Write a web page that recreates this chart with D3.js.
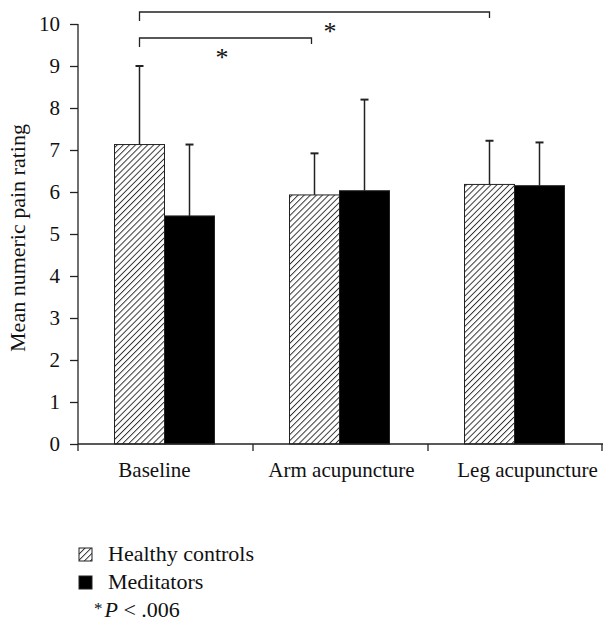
<!DOCTYPE html>
<html><head><meta charset="utf-8">
<script src="https://cdn.jsdelivr.net/npm/d3@7"></script>
<style>body{margin:0;background:#fff}svg{display:block}text{font-family:"Liberation Serif","DejaVu Serif",serif;fill:#111}</style>
</head><body><svg id="c" width="603" height="622"></svg>
<script>
const categories = ["Baseline", "Arm acupuncture", "Leg acupuncture"];
const seriesNames = ["Healthy controls", "Meditators"];
const healthyMeans = [7.13, 5.93, 6.18];
const healthyErrTop = [9.0, 6.92, 7.22];
const meditatorMeans = [5.43, 6.03, 6.15];
const meditatorErrTop = [7.13, 8.2, 7.18];
const yTicks = [0,1,2,3,4,5,6,7,8,9,10];
const sigPairs = [ {from:0, to:1, label:"*"}, {from:0, to:2, label:"*"} ];

const FS = 21;
const svg = d3.select("#c");
const M = {l:78, r:603, t:24, b:444};
const x = d3.scaleBand().domain(categories).range([M.l, M.r]);
const barW = 50;
const y = d3.scaleLinear().domain([0,10]).range([M.b, M.t]);
const labelShift = [-11, 1, 12];

const defs = svg.append("defs");
const pat = defs.append("pattern").attr("id","hatch").attr("patternUnits","userSpaceOnUse")
  .attr("width",4.3).attr("height",4.3).attr("patternTransform","rotate(45)");
pat.append("rect").attr("width",4.3).attr("height",4.3).attr("fill","#fff");
pat.append("line").attr("x1",0.5).attr("y1",0).attr("x2",0.5).attr("y2",4.3).attr("stroke","#222").attr("stroke-width",0.9);

const data = categories.map((c,i)=>[
  {cat:c, s:0, v:healthyMeans[i], e:healthyErrTop[i]},
  {cat:c, s:1, v:meditatorMeans[i], e:meditatorErrTop[i]}
]).flat();
const bx = d => x(d.cat) + x.bandwidth()/2 - barW + d.s*barW - 1;

// error bars
const eg = svg.append("g").attr("stroke","#222").attr("stroke-width",1.5);
data.forEach(d=>{
  const cx = bx(d)+barW/2;
  eg.append("line").attr("x1",cx).attr("x2",cx).attr("y1",y(d.v)).attr("y2",y(d.e));
  eg.append("line").attr("x1",cx-4).attr("x2",cx+4).attr("y1",y(d.e)).attr("y2",y(d.e)).attr("stroke-width",2);
});
svg.append("g").selectAll("rect").data(data).join("rect")
  .attr("x",bx).attr("width",barW)
  .attr("y",d=>y(d.v)).attr("height",d=>y(0)-y(d.v))
  .attr("fill",d=>d.s===0?"url(#hatch)":"#000")
  .attr("stroke","#222").attr("stroke-width",1);

// axes
const ya = svg.append("g").attr("transform",`translate(${M.l},0)`)
  .call(d3.axisLeft(y).tickValues(yTicks).tickSize(8).tickPadding(10).tickFormat(d3.format("d")));
ya.select(".domain").attr("stroke","#222").attr("stroke-width",1.3).attr("d",`M0,${M.b}V${M.t}`);
ya.selectAll(".tick line").attr("stroke","#222").attr("stroke-width",1.3);
ya.selectAll("text").attr("font-size",FS).style("font-family","Liberation Serif").attr("fill","#111");

const xa = svg.append("g").attr("transform",`translate(0,${M.b})`)
  .call(d3.axisBottom(x).tickSize(0).tickPadding(18));
xa.select(".domain").attr("stroke","#222").attr("stroke-width",1.3).attr("d",`M${M.l},0H${M.r}`);
xa.selectAll("text").attr("font-size",FS).style("font-family","Liberation Serif").attr("fill","#111")
  .attr("dx",(d,i)=>labelShift[i]);
const bounds = [M.l].concat(categories.map(c=>x(c)+x.bandwidth()));
svg.append("g").selectAll("line").data(bounds).join("line")
  .attr("x1",d=>Math.min(d,602)).attr("x2",d=>Math.min(d,602)).attr("y1",M.b).attr("y2",M.b+7)
  .attr("stroke","#222").attr("stroke-width",1.3);

// y label
svg.append("text").attr("transform",`translate(25,${(M.t+M.b)/2 + 4}) rotate(-90)`)
  .attr("text-anchor","middle").attr("font-size",22).text("Mean numeric pain rating");

// significance brackets
const hcCenter = i => x(categories[i]) + x.bandwidth()/2 - barW/2 - 1;
const brY = [38, 12];
sigPairs.forEach((p,k)=>{
  const x1 = hcCenter(p.from), x2 = hcCenter(p.to) - (k===0?3:0);
  const yy = brY[k];
  svg.append("path").attr("d",`M${x1},${yy+9}V${yy}H${x2}V${yy+6}`)
    .attr("fill","none").attr("stroke","#222").attr("stroke-width",1.3);
  svg.append("text").attr("x", k===0?222:330).attr("y", yy+28).attr("text-anchor","middle")
    .attr("font-size",26).attr("fill","#111").text(p.label);
});

// legend
const lg = svg.append("g");
seriesNames.forEach((s,i)=>{
  const yy = 548 + i*28;
  lg.append("rect").attr("x",79).attr("y",yy).attr("width",13).attr("height",13)
    .attr("fill", i===0?"url(#hatch)":"#000").attr("stroke","#222").attr("stroke-width",1);
  lg.append("text").attr("x",108).attr("y",yy+13).attr("font-size",22).text(s);
});
const pt = lg.append("text").attr("x",94).attr("y",617).attr("font-size",22);
pt.append("tspan").attr("font-size",17).attr("dy",-3).text("*");
pt.append("tspan").attr("font-style","italic").attr("dy",3).attr("dx",2).text("P");
pt.append("tspan").text(" < .006");
</script></body></html>
